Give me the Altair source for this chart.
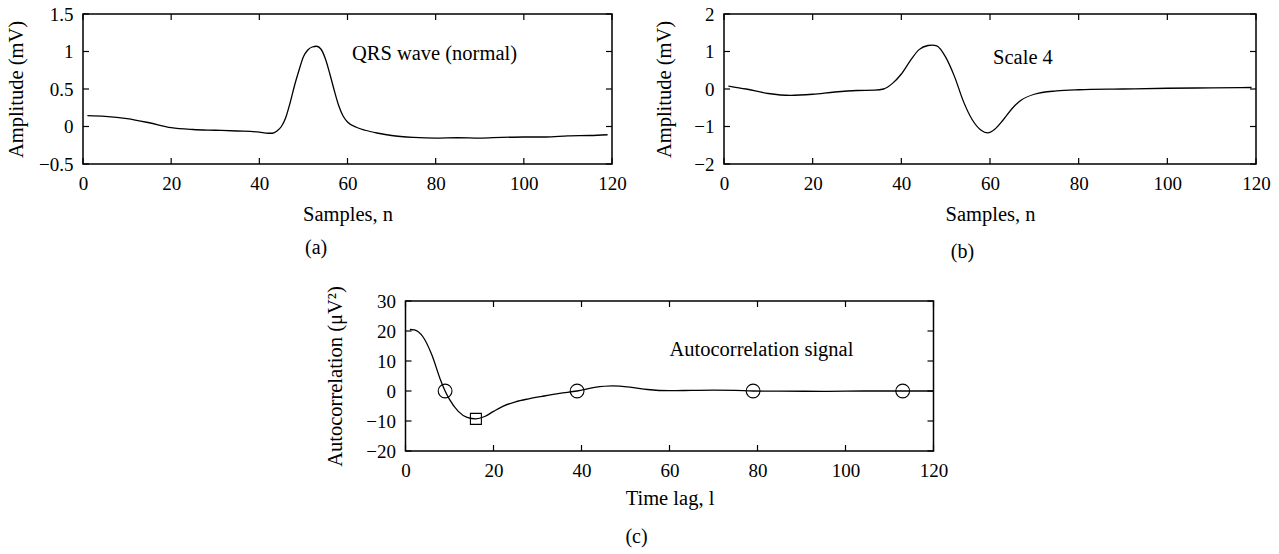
import altair as alt
import pandas as pd

FONT = "Liberation Serif"

# ---------- data ----------
xticks = [0, 20, 40, 60, 80, 100, 120]
xdom = [0, 120]

# (a) QRS wave (normal)
a_n = [1, 5, 10, 15, 20, 25, 30, 35, 40, 42, 43, 44, 45, 46, 47, 48, 49, 50, 51, 52, 53, 54,
       55, 56, 57, 58, 59, 60, 62, 64, 67, 70, 75, 80, 85, 90, 95, 100, 105, 110, 115, 119]
a_v = [0.145, 0.135, 0.105, 0.05, -0.015, -0.04, -0.05, -0.06, -0.075, -0.09, -0.09, -0.06,
       0.0, 0.12, 0.32, 0.55, 0.75, 0.93, 1.02, 1.06, 1.07, 1.03, 0.9, 0.7, 0.48, 0.28, 0.14,
       0.06, -0.01, -0.05, -0.09, -0.12, -0.145, -0.155, -0.15, -0.155, -0.145, -0.14, -0.14,
       -0.125, -0.12, -0.11]
a_yticks = [-0.5, 0, 0.5, 1, 1.5]
a_ydom = [-0.5, 1.5]

# (b) Scale 4
b_n = [1, 5, 10, 15, 20, 25, 30, 34, 36, 38, 40, 42, 44, 46, 47, 48, 50, 52, 54, 56, 58,
       59.5, 61, 63, 65, 67, 70, 75, 80, 90, 100, 110, 119]
b_v = [0.08, 0.0, -0.12, -0.17, -0.14, -0.08, -0.04, -0.03, 0.0, 0.15, 0.4, 0.75, 1.05, 1.16,
       1.17, 1.15, 0.85, 0.33, -0.33, -0.82, -1.1, -1.17, -1.08, -0.82, -0.52, -0.3, -0.14,
       -0.05, -0.02, 0.0, 0.02, 0.03, 0.04]
b_yticks = [-2, -1, 0, 1, 2]
b_ydom = [-2, 2]

# (c) Autocorrelation signal
c_l = [1, 2, 4, 6, 8, 9, 10, 12, 14, 16, 18, 20, 22, 25, 28, 31, 35, 39, 43, 47, 51, 55, 60,
       65, 70, 75, 79, 85, 95, 105, 113, 120]
c_r = [20.5, 20.4, 18, 12, 3.5, 0, -2.8, -6.8, -8.8, -9.3, -8.5, -6.8, -5.2, -3.6, -2.6, -1.8,
       -0.8, 0.0, 1.2, 1.7, 1.3, 0.5, 0.1, 0.2, 0.3, 0.2, 0.0, -0.05, -0.1, 0.0, 0.0, 0.0]
c_yticks = [-20, -10, 0, 10, 20, 30]
c_ydom = [-20, 30]
circ_l = [9, 39, 79, 113]
circ_r = [0, 0, 0, 0]
sq_l = [16]
sq_r = [-9.3]

# annotations
ann_a = {"text": ["QRS wave (normal)"], "x": [61], "y": [0.97]}
ann_b = {"text": ["Scale 4"], "x": [60.7], "y": [0.82]}
ann_c = {"text": ["Autocorrelation signal"], "x": [60], "y": [13.7]}

H = 150
TL = 6  # inward tick length


def panel(n, v, yticks, ydom, ytitle, xtitle, ann, letter, width, ytp, xtp, loff, extra=None):
    df = pd.DataFrame({"x": n, "y": v})
    xs = alt.Scale(domain=xdom, nice=False, zero=False)
    ys = alt.Scale(domain=ydom, nice=False, zero=False)
    xaxis = alt.Axis(values=xticks, title=xtitle, ticks=False, domain=False,
                     grid=False, labelPadding=10, titlePadding=xtp, format=".2~f",
                     labelFlush=False, labelOverlap=False)
    yaxis = alt.Axis(values=yticks, title=ytitle, ticks=False, domain=False,
                     grid=False, labelPadding=10, titlePadding=ytp, format=".2~f",
                     labelFlush=False, labelOverlap=False)
    X = alt.X("x:Q", scale=xs, axis=xaxis)
    Y = alt.Y("y:Q", scale=ys, axis=yaxis)

    main = alt.Chart(df).mark_line(color="black", strokeWidth=1.3,
                                   interpolate="monotone").encode(x=X, y=Y)
    # inward ticks on all four sides, placed through the scales
    xt_top = pd.DataFrame({"x": xticks, "y": [ydom[1]] * len(xticks)})
    xt_bot = pd.DataFrame({"x": xticks, "y": [ydom[0]] * len(xticks)})
    yt_left = pd.DataFrame({"x": [xdom[0]] * len(yticks), "y": yticks})
    yt_right = pd.DataFrame({"x": [xdom[1]] * len(yticks), "y": yticks})

    def tick(d, orient, xo, yo):
        return alt.Chart(d).mark_tick(
            orient=orient, size=TL, thickness=1.2, color="black", opacity=1,
            xOffset=xo, yOffset=yo
        ).encode(x=X, y=Y)

    ticks = [
        tick(xt_top, "vertical", 0, TL / 2),
        tick(xt_bot, "vertical", 0, -TL / 2),
        tick(yt_left, "horizontal", TL / 2, 0),
        tick(yt_right, "horizontal", -TL / 2, 0),
    ]
    txt = alt.Chart(pd.DataFrame(ann)).mark_text(
        align="left", baseline="middle", font=FONT, fontSize=20.5, color="black"
    ).encode(x=X, y=Y, text="text:N")
    layers = [main] + ticks + [txt]
    if extra is not None:
        for e in extra:
            layers.append(e(X, Y))
    ch = alt.layer(*layers).properties(
        width=width, height=H,
        title=alt.TitleParams(letter, orient="bottom", anchor="middle", frame="bounds",
                              offset=loff, font=FONT, fontSize=20, fontWeight="normal",
                              color="black"),
    )
    return ch


def circles(X, Y):
    return alt.Chart(pd.DataFrame({"x": circ_l, "y": circ_r})).mark_point(
        shape="circle", filled=False, color="black", size=190, strokeWidth=1.1, opacity=1
    ).encode(x=X, y=Y)


def squares(X, Y):
    return alt.Chart(pd.DataFrame({"x": sq_l, "y": sq_r})).mark_point(
        shape="square", filled=False, color="black", size=120, strokeWidth=1.1, opacity=1
    ).encode(x=X, y=Y)


pa = panel(a_n, a_v, a_yticks, a_ydom, "Amplitude (mV)", "Samples, n", ann_a, "(a)",
           529, 12.5, 11, 13)
pb = panel(b_n, b_v, b_yticks, b_ydom, "Amplitude (mV)", "Samples, n", ann_b, "(b)",
           532, 19, 11, 17)
pc = panel(c_l, c_r, c_yticks, c_ydom, "Autocorrelation (μV²)", "Time lag, l", ann_c, "(c)",
           528, 20.5, 8, 18, extra=[circles, squares])

top = alt.hconcat(pa, pb, spacing=27)
chart = alt.vconcat(top, pc, spacing=21, center=True).properties(
    padding={"left": 5, "top": 4, "right": 0, "bottom": 0}
).configure(font=FONT).configure_axis(
    labelFont=FONT, titleFont=FONT, labelFontSize=19, titleFontSize=20.5,
    titleFontWeight="normal", labelColor="black", titleColor="black",
).configure_view(stroke="black", strokeWidth=1.5).configure_title(
    font=FONT, fontWeight="normal", color="black"
)

chart.save("out.html", embed_options={"renderer": "svg", "actions": False})
